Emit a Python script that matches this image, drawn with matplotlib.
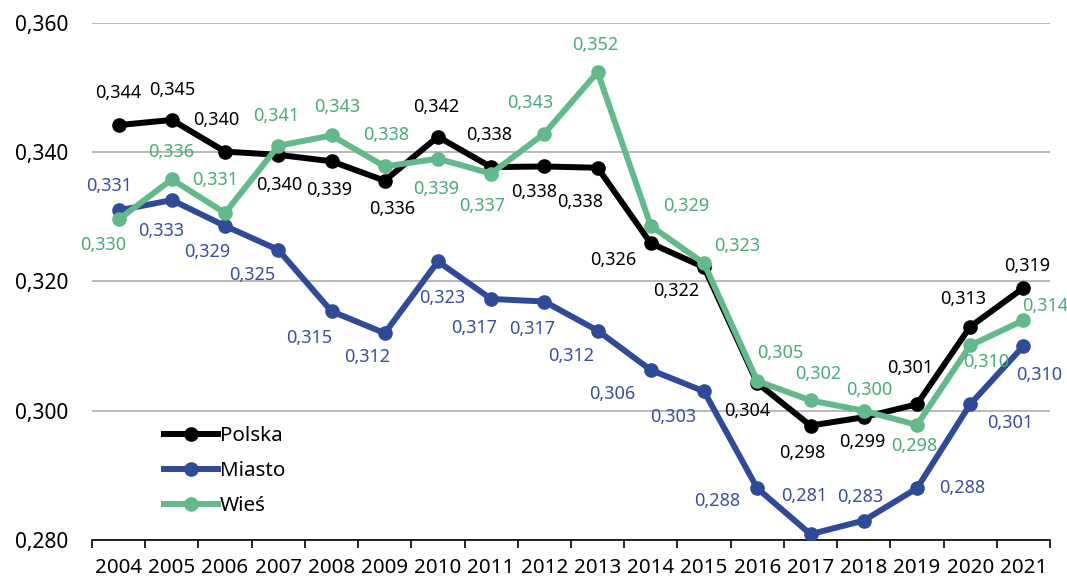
import matplotlib
matplotlib.use("Agg")
import matplotlib.pyplot as plt
from matplotlib.ticker import FixedLocator, NullFormatter

plt.rcParams['font.family'] = ['Noto Sans', 'DejaVu Sans']

years = ["2004", "2005", "2006", "2007", "2008", "2009", "2010", "2011", "2012",
         "2013", "2014", "2015", "2016", "2017", "2018", "2019", "2020", "2021"]
polska = [0.3442, 0.3450, 0.3401, 0.3396, 0.3386, 0.3356, 0.3424, 0.3377, 0.3378,
          0.3376, 0.3259, 0.3222, 0.3043, 0.2977, 0.2990, 0.3010, 0.3130, 0.3190]
miasto = [0.3310, 0.3326, 0.3286, 0.3249, 0.3154, 0.3120, 0.3231, 0.3173, 0.3169,
          0.3124, 0.3063, 0.3030, 0.2880, 0.2809, 0.2830, 0.2880, 0.3010, 0.3100]
wies = [0.3296, 0.3358, 0.3306, 0.3410, 0.3426, 0.3378, 0.3390, 0.3367, 0.3429,
        0.3524, 0.3286, 0.3228, 0.3046, 0.3016, 0.3000, 0.2978, 0.3101, 0.3140]
series_names = ["Polska", "Miasto", "Wieś"]
y_ticks = [0.280, 0.300, 0.320, 0.340, 0.360]

# label offsets in pixels (layout)
off_polska = [(0, -32), (0, -30), (-9, -32), (1, 30), (-2, 29), (7, 28), (-2, -30),
              (-2, -32), (-10, 26), (-17, 34), (-38, 17), (-28, 24), (-10, 28),
              (-8, 27), (-1, 25), (-7, -36), (-7, -28), (4, -22)]
off_miasto = [(-9, -24), (-11, 31), (-18, 26), (-26, 25), (-22, 27), (-18, 24),
              (4, 37), (-17, 29), (-12, 27), (-26, 25), (-39, 24), (-31, 26),
              (-40, 13), (-6, -38), (-4, -24), (45, 0), (40, 19), (16, 29)]
off_wies = [(-15, 26), (-1, -27), (-10, -33), (-2, -30), (6, -28), (1, -31), (-2, 30),
            (-9, 32), (-14, -31), (-2, -27), (35, -20), (33, -17), (23, -28),
            (8, -26), (6, -21), (-3, 21), (16, 17), (22, -14)]

c_black = "#000000"
c_blue = "#2F4A96"
c_green = "#63B98B"
t_blue = "#3A4E9A"
t_green = "#4AAA78"

fig = plt.figure(figsize=(10.67, 5.79), dpi=100)
ax = fig.add_axes([92/1067, 1-540/579, (1050-92)/1067, (540-23)/579])

x = list(range(len(years)))
series = [(polska, c_black, c_black, off_polska),
          (miasto, c_blue, t_blue, off_miasto),
          (wies, c_green, t_green, off_wies)]

for name, (vals, lc, tc, offs) in zip(series_names, series):
    ax.plot(x, vals, color=lc, lw=4.3, marker='o', ms=9.5, label=name,
            solid_joinstyle='round', zorder=3)

for name, (vals, lc, tc, offs) in zip(series_names, series):
    for xi, v, (dx, dy) in zip(x, vals, offs):
        ax.annotate(f"{v:.3f}".replace('.', ','), (xi, v), xytext=(dx, -dy),
                    textcoords='offset pixels', ha='center', va='center',
                    fontsize=13, color=tc, zorder=4)

ax.set_xlim(-0.5, len(years) - 0.5)
ax.set_ylim(0.280, 0.360)
ax.set_yticks(y_ticks)
ax.set_yticklabels([f"{t:.3f}".replace('.', ',') for t in y_ticks], fontsize=15)
ax.yaxis.grid(True, color='#b3b3b3', lw=1.3)
ax.set_axisbelow(True)
ax.tick_params(axis='y', length=0, pad=17)

ax.set_xticks(x)
ax.set_xticklabels(years, fontsize=14.8)
ax.tick_params(axis='x', which='major', length=0, pad=13)
ax.xaxis.set_minor_locator(FixedLocator([i - 0.5 for i in range(len(years) + 1)]))
ax.xaxis.set_minor_formatter(NullFormatter())
ax.tick_params(axis='x', which='minor', length=6, width=1.2, color='#000000')

for s in ['left', 'right', 'top']:
    ax.spines[s].set_visible(False)
ax.spines['bottom'].set_color('#000000')
ax.spines['bottom'].set_linewidth(1.2)

leg = ax.legend(loc='upper left', bbox_to_anchor=(64/958, 1-(418-23)/517),
                frameon=False, fontsize=14.8, handlelength=2.6, handletextpad=0.12,
                labelspacing=0.72, borderaxespad=0)

fig.savefig("out.png", dpi=100)
